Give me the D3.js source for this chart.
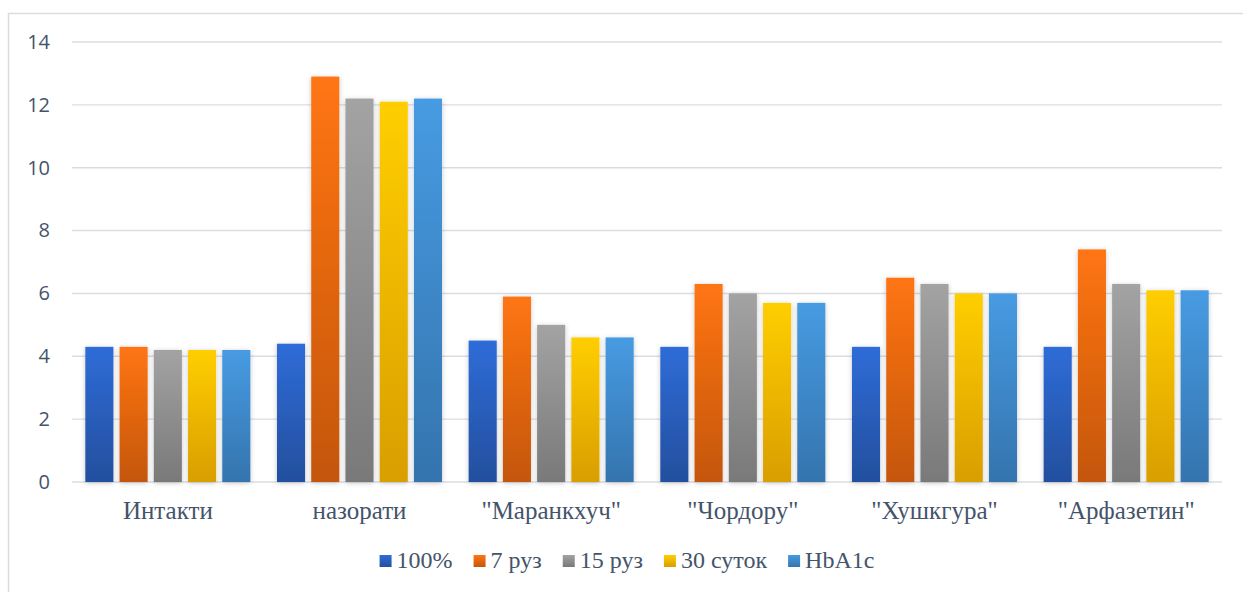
<!DOCTYPE html>
<html>
<head>
<meta charset="utf-8">
<script src="https://cdn.jsdelivr.net/npm/d3@7/dist/d3.min.js"></script>
<style>
  html, body { margin: 0; padding: 0; background: #fff; }
  svg { display: block; }
</style>
</head>
<body>
<svg id="chart" width="1243" height="592"></svg>
<script>
// Groups along the x axis
const categories = ["Интакти", "назорати", "\"Маранкхуч\"", "\"Чордору\"", "\"Хушкгура\"", "\"Арфазетин\""];
// Series names (legend order)
const seriesNames = ["100%", "7 руз", "15 руз", "30 суток", "HbA1c"];
// Values per series, one per category
const s100 = [4.3, 4.4, 4.5, 4.3, 4.3, 4.3];
const s7 = [4.3, 12.9, 5.9, 6.3, 6.5, 7.4];
const s15 = [4.2, 12.2, 5.0, 6.0, 6.3, 6.3];
const s30 = [4.2, 12.1, 4.6, 5.7, 6.0, 6.1];
const sHb = [4.2, 12.2, 4.6, 5.7, 6.0, 6.1];
// Y axis ticks
const yTicks = [0, 2, 4, 6, 8, 10, 12, 14];

const seriesValues = [s100, s7, s15, s30, sHb];
const gradients = [
  ["#2F6CD8", "#234F9E"],
  ["#FF7512", "#C4560F"],
  ["#A3A3A3", "#797979"],
  ["#FFCE00", "#D99E00"],
  ["#479BE2", "#3474AE"]
];

const svg = d3.select("#chart");
const textColor = "#44546A";
const gridColor = "#D9DDE3";
const serif = "'Liberation Serif', 'Times New Roman', serif";

// Outer chart frame
svg.append("rect")
  .attr("x", 8.5).attr("y", 13.5)
  .attr("width", 1250).attr("height", 600)
  .attr("fill", "none").attr("stroke", "#D9DDE3").attr("stroke-width", 1.5);

const defs = svg.append("defs");
gradients.forEach((g, i) => {
  const lg = defs.append("linearGradient")
    .attr("id", "grad" + i)
    .attr("x1", 0).attr("y1", 0).attr("x2", 0).attr("y2", 1);
  lg.append("stop").attr("offset", "0%").attr("stop-color", g[0]);
  lg.append("stop").attr("offset", "100%").attr("stop-color", g[1]);
});
const shadow = defs.append("filter").attr("id", "shadow")
  .attr("x", "-40%").attr("y", "-20%").attr("width", "180%").attr("height", "140%");
shadow.append("feDropShadow")
  .attr("dx", 0).attr("dy", 1).attr("stdDeviation", 2.5)
  .attr("flood-color", "#000").attr("flood-opacity", 0.22);

const plotLeft = 72, plotRight = 1222, plotTop = 42, plotBottom = 482;

const y = d3.scaleLinear().domain([0, 14]).range([plotBottom, plotTop]);
const x0 = d3.scaleBand().domain(categories).range([plotLeft, plotRight])
  .paddingInner(0.139).paddingOuter(0.0695);
const x1 = d3.scaleBand().domain(seriesNames).range([0, x0.bandwidth()])
  .paddingInner(0.18).paddingOuter(0);

// Gridlines
svg.append("g").selectAll("line")
  .data(yTicks)
  .join("line")
  .attr("x1", plotLeft).attr("x2", plotRight)
  .attr("y1", d => y(d)).attr("y2", d => y(d))
  .attr("stroke", gridColor).attr("stroke-width", 1.4);

// Y axis labels
const yAxis = d3.axisLeft(y).tickValues(yTicks).tickSize(0).tickPadding(0);
const yg = svg.append("g").attr("transform", `translate(50,0)`).call(yAxis);
yg.select(".domain").remove();
yg.selectAll("text")
  .attr("fill", textColor)
  .style("font-family", "'Open Sans', 'Noto Sans', sans-serif")
  .style("font-size", "20px");

// Bars
const groups = svg.append("g").selectAll("g")
  .data(categories)
  .join("g")
  .attr("transform", d => `translate(${x0(d)},0)`);

groups.selectAll("rect")
  .data((c, ci) => seriesNames.map((s, si) => ({ s, si, v: seriesValues[si][ci] })))
  .join("rect")
  .attr("x", d => x1(d.s))
  .attr("width", x1.bandwidth())
  .attr("y", d => y(d.v))
  .attr("height", d => y(0) - y(d.v))
  .attr("fill", d => `url(#grad${d.si})`)
  .attr("filter", "url(#shadow)");

// Category labels
const xAxis = d3.axisBottom(x0).tickSize(0).tickPadding(0);
const xg = svg.append("g").attr("transform", `translate(0,${plotBottom + 37})`).call(xAxis);
xg.select(".domain").remove();
xg.selectAll("text")
  .attr("dy", 0)
  .attr("fill", textColor)
  .style("font-family", serif)
  .style("font-size", "25px");

// Legend
const legend = svg.append("g");
const items = legend.selectAll("g").data(seriesNames).join("g");
items.append("rect")
  .attr("width", 12).attr("height", 12)
  .attr("y", -13)
  .attr("fill", (d, i) => `url(#grad${i})`);
items.append("text")
  .attr("x", 17).attr("y", 0)
  .attr("fill", textColor)
  .style("font-family", serif)
  .style("font-size", "24px")
  .text(d => d);
let cx = 0;
const offs = [];
items.each(function () {
  const w = d3.select(this).select("text").node().getComputedTextLength() + 17;
  offs.push(cx);
  cx += w + 21;
});
const totalW = cx - 21;
const startX = 627 - totalW / 2;
items.attr("transform", (d, i) => `translate(${startX + offs[i]},568)`);
</script>
</body>
</html>
